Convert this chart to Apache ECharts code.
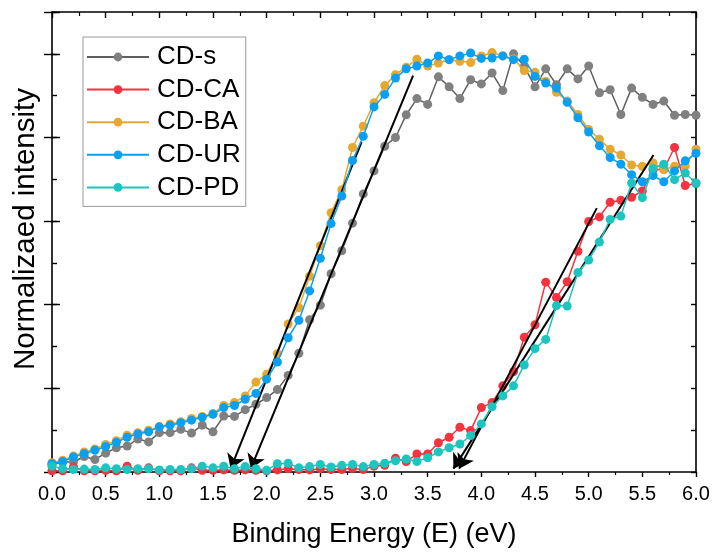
<!DOCTYPE html>
<html>
<head>
<meta charset="utf-8">
<script src="https://cdn.jsdelivr.net/npm/echarts@6/dist/echarts.min.js"></script>
<style>
html,body{margin:0;padding:0;background:#fff;}
#chart{width:714px;height:553px;}
</style>
</head>
<body>
<div id="chart"></div>
<script>
// Binding energy (eV)
var energy = [0.0,0.1,0.2,0.3,0.4,0.5,0.6,0.7,0.8,0.9,1.0,1.1,1.2,1.3,1.4,1.5,1.6,1.7,1.8,1.9,2.0,2.1,2.2,2.3,2.4,2.5,2.6,2.7,2.8,2.9,3.0,3.1,3.2,3.3,3.4,3.5,3.6,3.7,3.8,3.9,4.0,4.1,4.2,4.3,4.4,4.5,4.6,4.7,4.8,4.9,5.0,5.1,5.2,5.3,5.4,5.5,5.6,5.7,5.8,5.9,6.0];

var cdS  = [1.8,2.4,2.4,3.7,3.0,4.5,5.8,6.2,7.9,7.2,9.4,9.4,10.2,9.3,11.2,9.6,13.4,13.3,14.9,16.2,17.8,19.7,23.1,28.4,36.4,39.9,47.4,52.9,59.5,66.5,72.0,77.9,80.0,85.4,89.3,87.9,94.5,92.1,89.3,93.8,92.8,95.4,91.2,100.0,97.0,92.1,96.4,92.6,96.4,94.0,97.1,90.7,91.4,85.5,91.8,89.6,87.9,88.7,85.3,85.5,85.3];
var cdCA = [0.3,0.3,1.2,0.3,0.3,0.4,0.3,1.4,0.4,1.0,0.3,0.3,0.3,1.0,0.4,0.4,0.5,0.4,0.5,0.4,0.3,0.5,0.8,0.6,0.5,0.8,0.6,0.6,0.9,0.6,1.4,1.6,3.3,2.5,4.3,4.3,7.0,8.3,10.7,9.9,15.4,16.6,20.6,24.0,32.2,35.2,45.4,41.7,45.5,52.8,59.9,61.0,64.5,65.0,65.7,67.2,72.3,72.4,77.6,68.5,69.0];
var cdBA = [2.2,2.8,3.8,4.8,5.5,6.6,7.5,8.8,9.4,10.0,10.8,11.5,12.0,12.8,13.3,14.0,15.9,16.6,18.2,21.5,23.4,28.3,35.4,39.3,46.8,54.1,62.0,67.5,77.6,82.7,88.3,92.4,95.0,96.8,98.7,97.1,97.8,98.6,98.2,97.9,99.5,100.3,99.5,98.8,96.0,95.6,93.4,90.8,88.7,85.5,81.9,79.6,77.2,75.8,73.4,73.1,73.9,72.3,73.1,73.2,77.2];
var cdUR = [2.0,2.5,3.6,4.4,5.2,6.1,7.1,8.3,9.1,9.6,10.8,11.2,11.8,12.4,13.1,13.8,15.4,15.9,17.4,18.8,22.2,26.3,32.1,36.3,43.3,51.1,59.4,66.0,74.5,80.3,87.3,90.3,94.2,96.4,97.1,97.8,99.5,98.6,99.5,100.2,98.9,99.0,99.5,98.6,98.7,94.6,93.0,91.8,88.4,84.7,81.3,78.0,75.2,73.6,71.1,69.4,70.9,69.4,72.0,74.4,76.2];
var cdPD = [1.4,0.8,0.6,0.7,0.6,1.0,0.8,0.6,0.8,0.8,0.5,0.6,0.6,0.8,1.4,1.0,1.4,0.8,1.3,0.8,0.4,2.0,2.1,1.0,1.3,1.8,1.2,1.6,1.8,1.3,1.8,2.1,2.7,3.1,2.5,3.4,4.8,5.8,6.7,8.7,11.5,15.6,18.2,20.6,25.6,29.5,31.7,39.8,39.7,47.7,50.7,55.0,60.4,61.2,69.1,65.6,72.6,73.6,69.9,71.5,69.1];

var seriesNames = ['CD-s','CD-CA','CD-BA','CD-UR','CD-PD'];
var seriesValues = [cdS, cdCA, cdBA, cdUR, cdPD];

// Tangent (extrapolation) arrows: [startX, startY, endX, endY]
var arrowBA = [2.884, 78.9, 1.665, 0.8];
var arrowS  = [3.364, 94.8, 1.852, 0.8];
var arrowCA = [5.076, 63.1, 3.793, 0.8];
var arrowPD = [5.604, 75.8, 3.740, 0.8];
var arrows = [arrowBA, arrowS, arrowCA, arrowPD];

var xTickLabels = ['0.0','0.5','1.0','1.5','2.0','2.5','3.0','3.5','4.0','4.5','5.0','5.5','6.0'];

var colors = ['#808080','#F5333F','#E5A830','#0AA0F2','#1CC5C0'];
var lineColors = ['#5f5f5f','#F5333F','#E5A830','#0AA0F2','#1CC5C0'];
var FONT = '"Liberation Sans", Arial, sans-serif';

var chart = echarts.init(document.getElementById('chart'), null, {renderer:'canvas'});

function pairs(vals){
  var out = [];
  for (var i = 0; i < energy.length; i++) out.push([energy[i], vals[i]]);
  return out;
}

var series = seriesNames.map(function(n, k){
  return {
    name: n,
    type: 'line',
    data: pairs(seriesValues[k]),
    symbol: 'circle',
    symbolSize: 9,
    showSymbol: true,
    color: colors[k],
    itemStyle: {color: colors[k]},
    lineStyle: {color: lineColors[k], width: 1.5},
    xAxisIndex: 0,
    yAxisIndex: 0,
    z: 2 + k
  };
});

series.push({
  name: 'arrows',
  type: 'line',
  data: [],
  clip: false,
  xAxisIndex: 0,
  yAxisIndex: 0,
  z: 10,
  markLine: {
    silent: true,
    symbol: ['none', 'arrow'],
    symbolSize: 14,
    label: {show: false},
    lineStyle: {color: '#000', width: 2, type: 'solid', opacity: 1},
    itemStyle: {color: '#000'},
    emphasis: {disabled: true},
    data: arrows.map(function(a){
      return [{coord: [a[0], a[1]]}, {coord: [a[2], a[3]]}];
    })
  }
});

var axisLineStyle = {color: '#000', width: 1.6};

var option = {
  animation: false,
  backgroundColor: '#fff',
  grid: {left: 52, right: 18, top: 12, bottom: 78, containLabel: false},
  legend: {
    data: seriesNames,
    orient: 'vertical',
    left: 83,
    top: 37,
    itemWidth: 62,
    itemHeight: 11,
    itemGap: 6.6,
    padding: [7, 5, 6, 3],
    borderColor: '#999',
    borderWidth: 1,
    backgroundColor: '#fff',
    textStyle: {fontFamily: FONT, fontSize: 26, color: '#000', lineHeight: 26, padding: [0,0,0,3]}
  },
  xAxis: [
    {
      type: 'value', position: 'bottom', min: 0, max: 6, interval: 0.5,
      name: 'Binding Energy (E) (eV)', nameLocation: 'middle', nameGap: 49,
      nameTextStyle: {fontFamily: FONT, fontSize: 27, color: '#000'},
      axisLine: {show: true, onZero: false, lineStyle: axisLineStyle},
      axisTick: {show: true, inside: false, length: 5, lineStyle: {color: '#000', width: 1.4}},
      minorTick: {show: true, splitNumber: 2, length: 3, lineStyle: {color: '#000', width: 1.2}},
      axisLabel: {show: true, margin: 12, fontFamily: FONT, fontSize: 20, color: '#000',
        formatter: function(v){ var i = Math.round(v / 0.5); return xTickLabels[i] || ''; }},
      splitLine: {show: false}
    },
    {
      type: 'value', position: 'top', min: 0, max: 6, interval: 0.5,
      axisLine: {show: true, onZero: false, lineStyle: axisLineStyle},
      axisTick: {show: true, inside: true, length: 6, lineStyle: {color: '#000', width: 1.4}},
      minorTick: {show: true, splitNumber: 2, length: 4, lineStyle: {color: '#000', width: 1.2}},
      axisLabel: {show: false},
      splitLine: {show: false}
    }
  ],
  yAxis: [
    {
      type: 'value', position: 'left', min: 0, max: 110, interval: 10,
      name: 'Normalizaed intensity', nameLocation: 'middle', nameGap: 11,
      nameTextStyle: {fontFamily: FONT, fontSize: 29.5, color: '#000', padding: [0, 0, 0, 26]},
      axisLine: {show: true, onZero: false, lineStyle: axisLineStyle},
      axisTick: {show: true, inside: true, length: 5, lineStyle: {color: '#000', width: 1.4}},
      axisLabel: {show: false},
      splitLine: {show: false}
    },
    {
      type: 'value', position: 'left', min: 0, max: 110, interval: 20,
      axisLine: {show: false},
      axisTick: {show: true, inside: true, length: 8, lineStyle: {color: '#000', width: 1.4}},
      axisLabel: {show: false},
      splitLine: {show: false}
    },
    {
      type: 'value', position: 'right', min: 0, max: 110, interval: 10,
      axisLine: {show: true, onZero: false, lineStyle: axisLineStyle},
      axisTick: {show: true, inside: true, length: 5, lineStyle: {color: '#000', width: 1.4}},
      axisLabel: {show: false},
      splitLine: {show: false}
    },
    {
      type: 'value', position: 'right', min: 0, max: 110, interval: 20,
      axisLine: {show: false},
      axisTick: {show: true, inside: true, length: 8, lineStyle: {color: '#000', width: 1.4}},
      axisLabel: {show: false},
      splitLine: {show: false}
    }
  ],
  series: series
};

chart.setOption(option);
</script>
</body>
</html>
